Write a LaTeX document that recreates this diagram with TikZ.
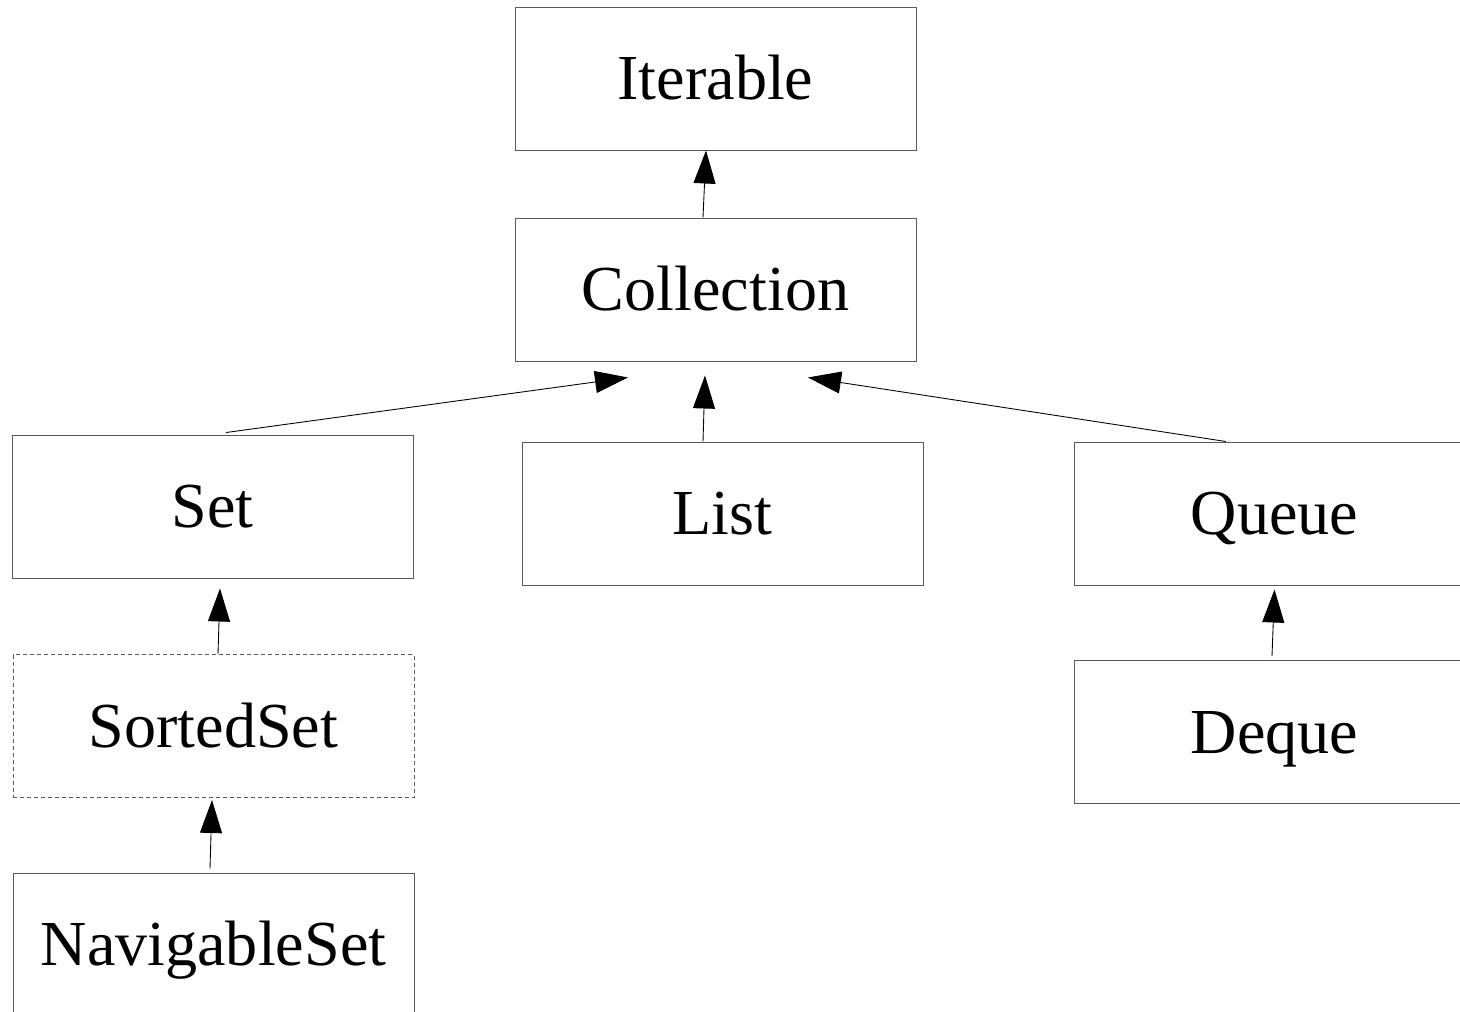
\documentclass[tikz,border=0pt]{standalone}
\usepackage{fontspec}
\setmainfont{Liberation Serif}
\usepackage{tikz}
\usetikzlibrary{positioning}
\usetikzlibrary{arrows.meta}
\usetikzlibrary{calc}
\tikzset{ifacebox/.style={rectangle, draw=black!65, line width=0.55pt, minimum width=8.02cm, minimum height=2.86cm, inner sep=0pt, text height=24.2pt, text depth=0pt, font=\fontsize{36.5}{40}\selectfont}}
\tikzset{dashedbox/.style={ifacebox, dash pattern=on 0.08cm off 0.06cm}}
\tikzset{inherit/.style={-{Triangle[length=0.66cm,width=0.44cm]}, line width=0.5pt, black}}

\begin{document}
\begin{tikzpicture}
    \useasboundingbox (0,0) rectangle (29.2,-20.22);
    \clip (0,0) rectangle (29.2,-20.22);
    \node [ifacebox](iterable) at (14.31,-1.57){Iterable};
    \node [ifacebox](collection) at (14.31,-5.79){Collection};
    \node [ifacebox](set) at (4.25,-10.13){Set};
    \node [ifacebox](list) at (14.45,-10.27){List};
    \node [ifacebox](queue) at (25.49,-10.27){Queue};
    \node [dashedbox](sortedset) at (4.27,-14.52){SortedSet};
    \node [ifacebox](deque) at (25.49,-14.64){Deque};
    \node [ifacebox](navigableset) at (4.27,-18.89){NavigableSet};

    \draw[inherit] ([xshift=-0.25cm]collection.north) -- ([xshift=-0.19cm]iterable.south);
    \draw[inherit] ([xshift=0.27cm,yshift=0.04cm]set.north) -- ([xshift=-1.75cm,yshift=-0.32cm]collection.south);
    \draw[inherit] ([xshift=-0.39cm]list.north) -- ([xshift=-0.21cm,yshift=-0.28cm]collection.south);
    \draw[inherit] ([xshift=-0.97cm]queue.north) -- ([xshift=1.85cm,yshift=-0.32cm]collection.south);
    \draw[inherit] ([xshift=0.09cm]sortedset.north) -- ([xshift=0.15cm,yshift=-0.2cm]set.south);
    \draw[inherit] ([xshift=-0.07cm,yshift=0.08cm]navigableset.north) -- ([xshift=-0.03cm,yshift=-0.04cm]sortedset.south);
    \draw[inherit] ([xshift=-0.05cm,yshift=0.08cm]deque.north) -- ([yshift=-0.08cm]queue.south);
\end{tikzpicture}
\end{document}
